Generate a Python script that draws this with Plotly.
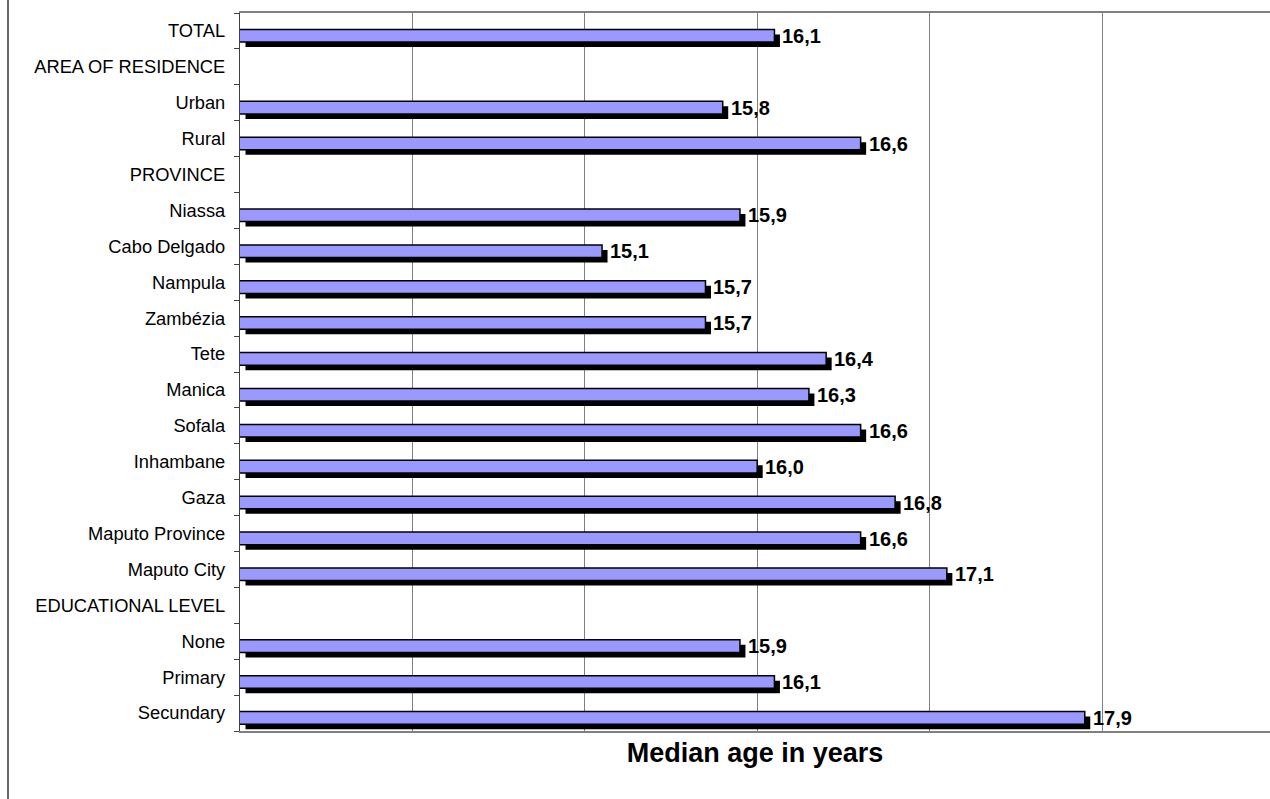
import plotly.graph_objects as go

# Median age at first marriage (years), by background characteristic
categories = [
    "TOTAL", "AREA OF RESIDENCE", "Urban", "Rural", "PROVINCE",
    "Niassa", "Cabo Delgado", "Nampula", "Zambézia", "Tete", "Manica",
    "Sofala", "Inhambane", "Gaza", "Maputo Province", "Maputo City",
    "EDUCATIONAL LEVEL", "None", "Primary", "Secundary",
]
median_age = [
    16.1, None, 15.8, 16.6, None,
    15.9, 15.1, 15.7, 15.7, 16.4, 16.3,
    16.6, 16.0, 16.8, 16.6, 17.1,
    None, 15.9, 16.1, 17.9,
]

X_MIN = 13.0
PLOT_W = 1030           # plot area width in px
PX_PER_YEAR = 172.4
X_MAX = X_MIN + PLOT_W / PX_PER_YEAR
ROW_PX = 718 / len(categories)

FONT = "Arial, Liberation Sans, sans-serif"
BAR_COLOR = "#9999FF"

# drop shadow offset (px) converted to data units
SH_DX = 5.5 / PX_PER_YEAR
SH_DY = 5.0 / ROW_PX
BAR_W = 0.35
BAR_OFF = -0.04

shown = [(c, v) for c, v in zip(categories, median_age) if v is not None]
cats = [c for c, _ in shown]
vals = [v for _, v in shown]

fig = go.Figure()

# shadow behind each bar
fig.add_trace(go.Bar(
    y=cats, x=[v - X_MIN for v in vals], base=X_MIN + SH_DX,
    orientation="h", width=BAR_W, offset=BAR_OFF + SH_DY,
    marker=dict(color="black", line=dict(width=0)),
    hoverinfo="skip", showlegend=False,
))

# main bars
fig.add_trace(go.Bar(
    y=cats, x=vals, orientation="h", width=BAR_W, offset=BAR_OFF,
    marker=dict(color=BAR_COLOR, line=dict(color="black", width=1.5)),
    showlegend=False,
))

# value labels with comma decimal separator
for c, v in shown:
    fig.add_annotation(
        x=v, y=c, xref="x", yref="y",
        text=f"{v:.1f}".replace(".", ","),
        showarrow=False, xanchor="left", yanchor="middle",
        xshift=6, yshift=-5,
        font=dict(family=FONT, size=20, color="black", weight="bold"),
    )

# outer frame line on the left side of the chart
fig.add_shape(
    type="line", xref="paper", yref="paper",
    x0=(8 - 240) / PLOT_W, x1=(8 - 240) / PLOT_W,
    y0=-80 / 718, y1=1 + 20 / 718,
    line=dict(color="black", width=1.2),
)

fig.update_layout(
    width=1270, height=799,
    margin=dict(l=240, r=0, t=13, b=68),
    paper_bgcolor="white", plot_bgcolor="white",
    barmode="overlay",
    font=dict(family=FONT, color="black"),
    xaxis=dict(
        range=[X_MIN, X_MAX], tick0=X_MIN, dtick=1,
        showticklabels=False, ticks="",
        showgrid=True, gridcolor="#808080", gridwidth=1,
        zeroline=False,
        showline=True, linecolor="#808080", linewidth=2, mirror=True,
        title=dict(
            text="Median age in years", standoff=11,
            font=dict(family=FONT, size=27, color="black", weight="bold"),
        ),
    ),
    yaxis=dict(
        type="category", categoryorder="array", categoryarray=categories,
        tickmode="array", tickvals=categories, ticktext=categories,
        range=[len(categories) - 0.5, -0.5],
        ticks="outside", ticklen=5, tickcolor="#404040", tickwidth=1,
        tickson="boundaries",
        showgrid=False, zeroline=False,
        showline=True, linecolor="#404040", linewidth=1.2,
        tickfont=dict(family=FONT, size=18.3, color="black"),
        ticklabelstandoff=10,
    ),
)

fig.write_html("out.html")
